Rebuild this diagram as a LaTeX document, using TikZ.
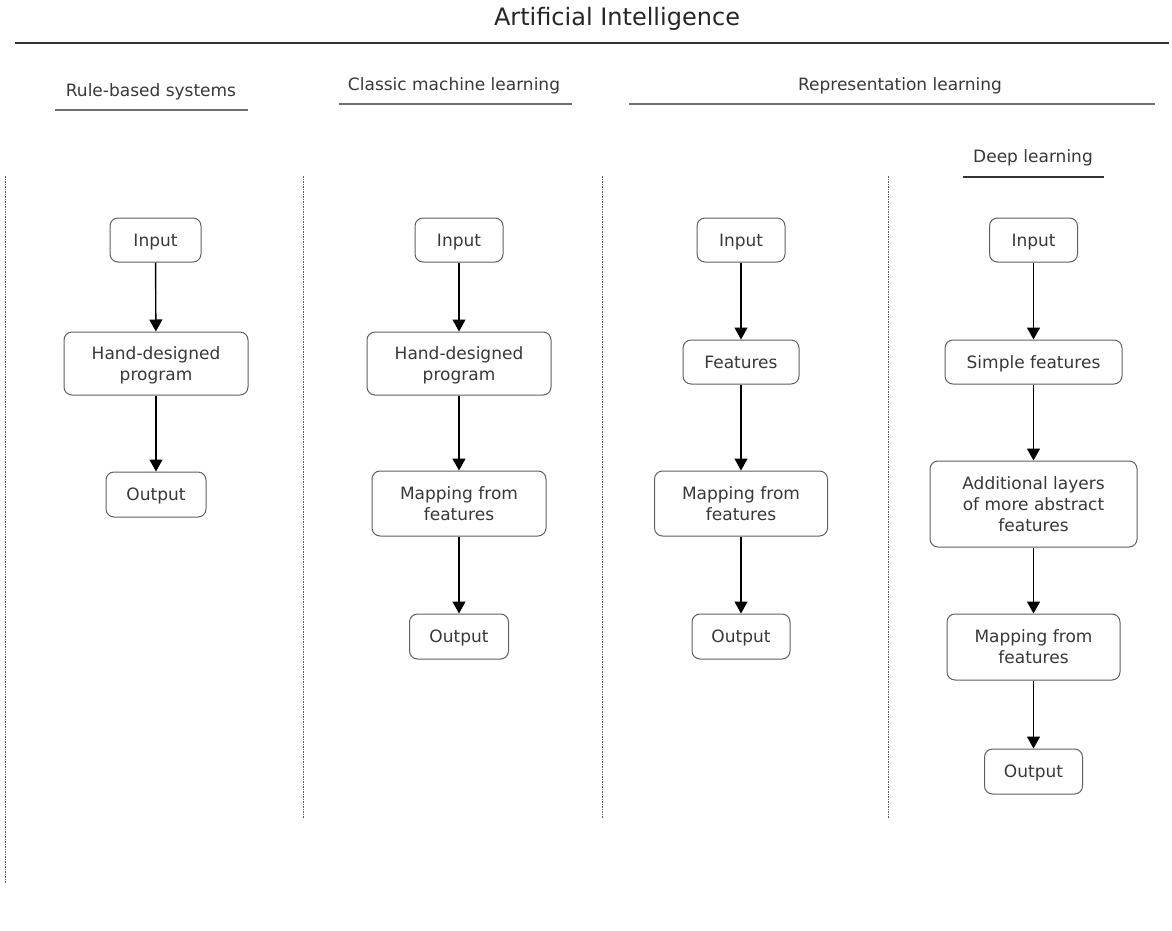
\documentclass[tikz,border=0pt]{standalone}
\usepackage{fontspec}
\setmainfont{DejaVu Sans}
\usetikzlibrary{arrows.meta}
\definecolor{ink}{HTML}{383838}
\definecolor{frame}{HTML}{606060}
\definecolor{underline}{HTML}{707070}
\tikzset{
  box/.style={draw=frame, line width=1pt, rounded corners=8pt, fill=white,
    text=ink, font=\fontsize{17}{21}\selectfont, align=center, inner sep=0pt,
    text depth=0pt},
  flow/.style={line width=1.4pt, -{Triangle[length=12pt,width=13pt]}},
  heading/.style={text=ink, font=\fontsize{17}{21}\selectfont, inner sep=0pt},
  rule/.style={draw=underline, line width=1.4pt},
  divider/.style={draw=frame, line width=1pt, dash pattern=on 1.5pt off 1pt}
}
\begin{document}
\begin{tikzpicture}[x=1pt,y=-1pt]
\useasboundingbox (0,0) rectangle (1172,931);

% title and section headings
\node[heading, text=black!85, font=\fontsize{24}{28}\selectfont] (title) at (617,19) {Artificial Intelligence};
\draw[draw=black!80, line width=1.3pt] (15,43) -- (1169,43);
\node[heading] (rb) at (151,92) {Rule-based systems};
\draw[rule] (55,110) -- (248,110);
\node[heading] (cml) at (454,86) {Classic machine learning};
\draw[rule] (339,104) -- (572,104);
\node[heading] (rl) at (900,86) {Representation learning};
\draw[rule] (629,104) -- (1155,104);
\node[heading] (dl) at (1033,158) {Deep learning};
\draw[draw=black!80, line width=1.3pt] (963,177) -- (1104,177);

% column separators
\draw[divider] (5,176) -- (5,883);
\draw[divider] (303,176) -- (303,818);
\draw[divider] (602,176) -- (602,818);
\draw[divider] (888,176) -- (888,818);

% rule-based systems
\node[box, minimum width=91pt, minimum height=44pt] (i1) at (155.5,240) {Input};
\node[box, minimum width=184pt, minimum height=63pt] (h1) at (156,363.5) {Hand-designed\\program};
\node[box, minimum width=100pt, minimum height=45pt] (o1) at (156,494.5) {Output};
\draw[flow] (i1) -- (h1);
\draw[flow] (h1) -- (o1);

% classic machine learning
\node[box, minimum width=88pt, minimum height=44pt] (i2) at (459,240) {Input};
\node[box, minimum width=184pt, minimum height=63pt] (h2) at (459,363.5) {Hand-designed\\program};
\node[box, minimum width=174pt, minimum height=65pt] (m2) at (459,503.5) {Mapping from\\features};
\node[box, minimum width=99pt, minimum height=45pt] (o2) at (459,636.5) {Output};
\draw[flow] (i2) -- (h2);
\draw[flow] (h2) -- (m2);
\draw[flow] (m2) -- (o2);

% representation learning
\node[box, minimum width=88pt, minimum height=44pt] (i3) at (741,240) {Input};
\node[box, minimum width=116pt, minimum height=44pt] (f3) at (741,362) {Features};
\node[box, minimum width=173pt, minimum height=65pt] (m3) at (741,503.5) {Mapping from\\features};
\node[box, minimum width=98pt, minimum height=45pt] (o3) at (741,636.5) {Output};
\draw[flow] (i3) -- (f3);
\draw[flow] (f3) -- (m3);
\draw[flow] (m3) -- (o3);

% deep learning
\node[box, minimum width=88pt, minimum height=44pt] (i4) at (1033.5,240) {Input};
\node[box, minimum width=177pt, minimum height=44pt] (s4) at (1033.5,362) {Simple features};
\node[box, minimum width=207pt, minimum height=86pt] (a4) at (1033.5,504) {Additional layers\\of more abstract\\features};
\node[box, minimum width=173pt, minimum height=66pt] (m4) at (1033.5,647) {Mapping from\\features};
\node[box, minimum width=98pt, minimum height=45pt] (o4) at (1033.5,771.5) {Output};
\draw[flow] (i4) -- (s4);
\draw[flow] (s4) -- (a4);
\draw[flow] (a4) -- (m4);
\draw[flow] (m4) -- (o4);
\end{tikzpicture}
\end{document}
